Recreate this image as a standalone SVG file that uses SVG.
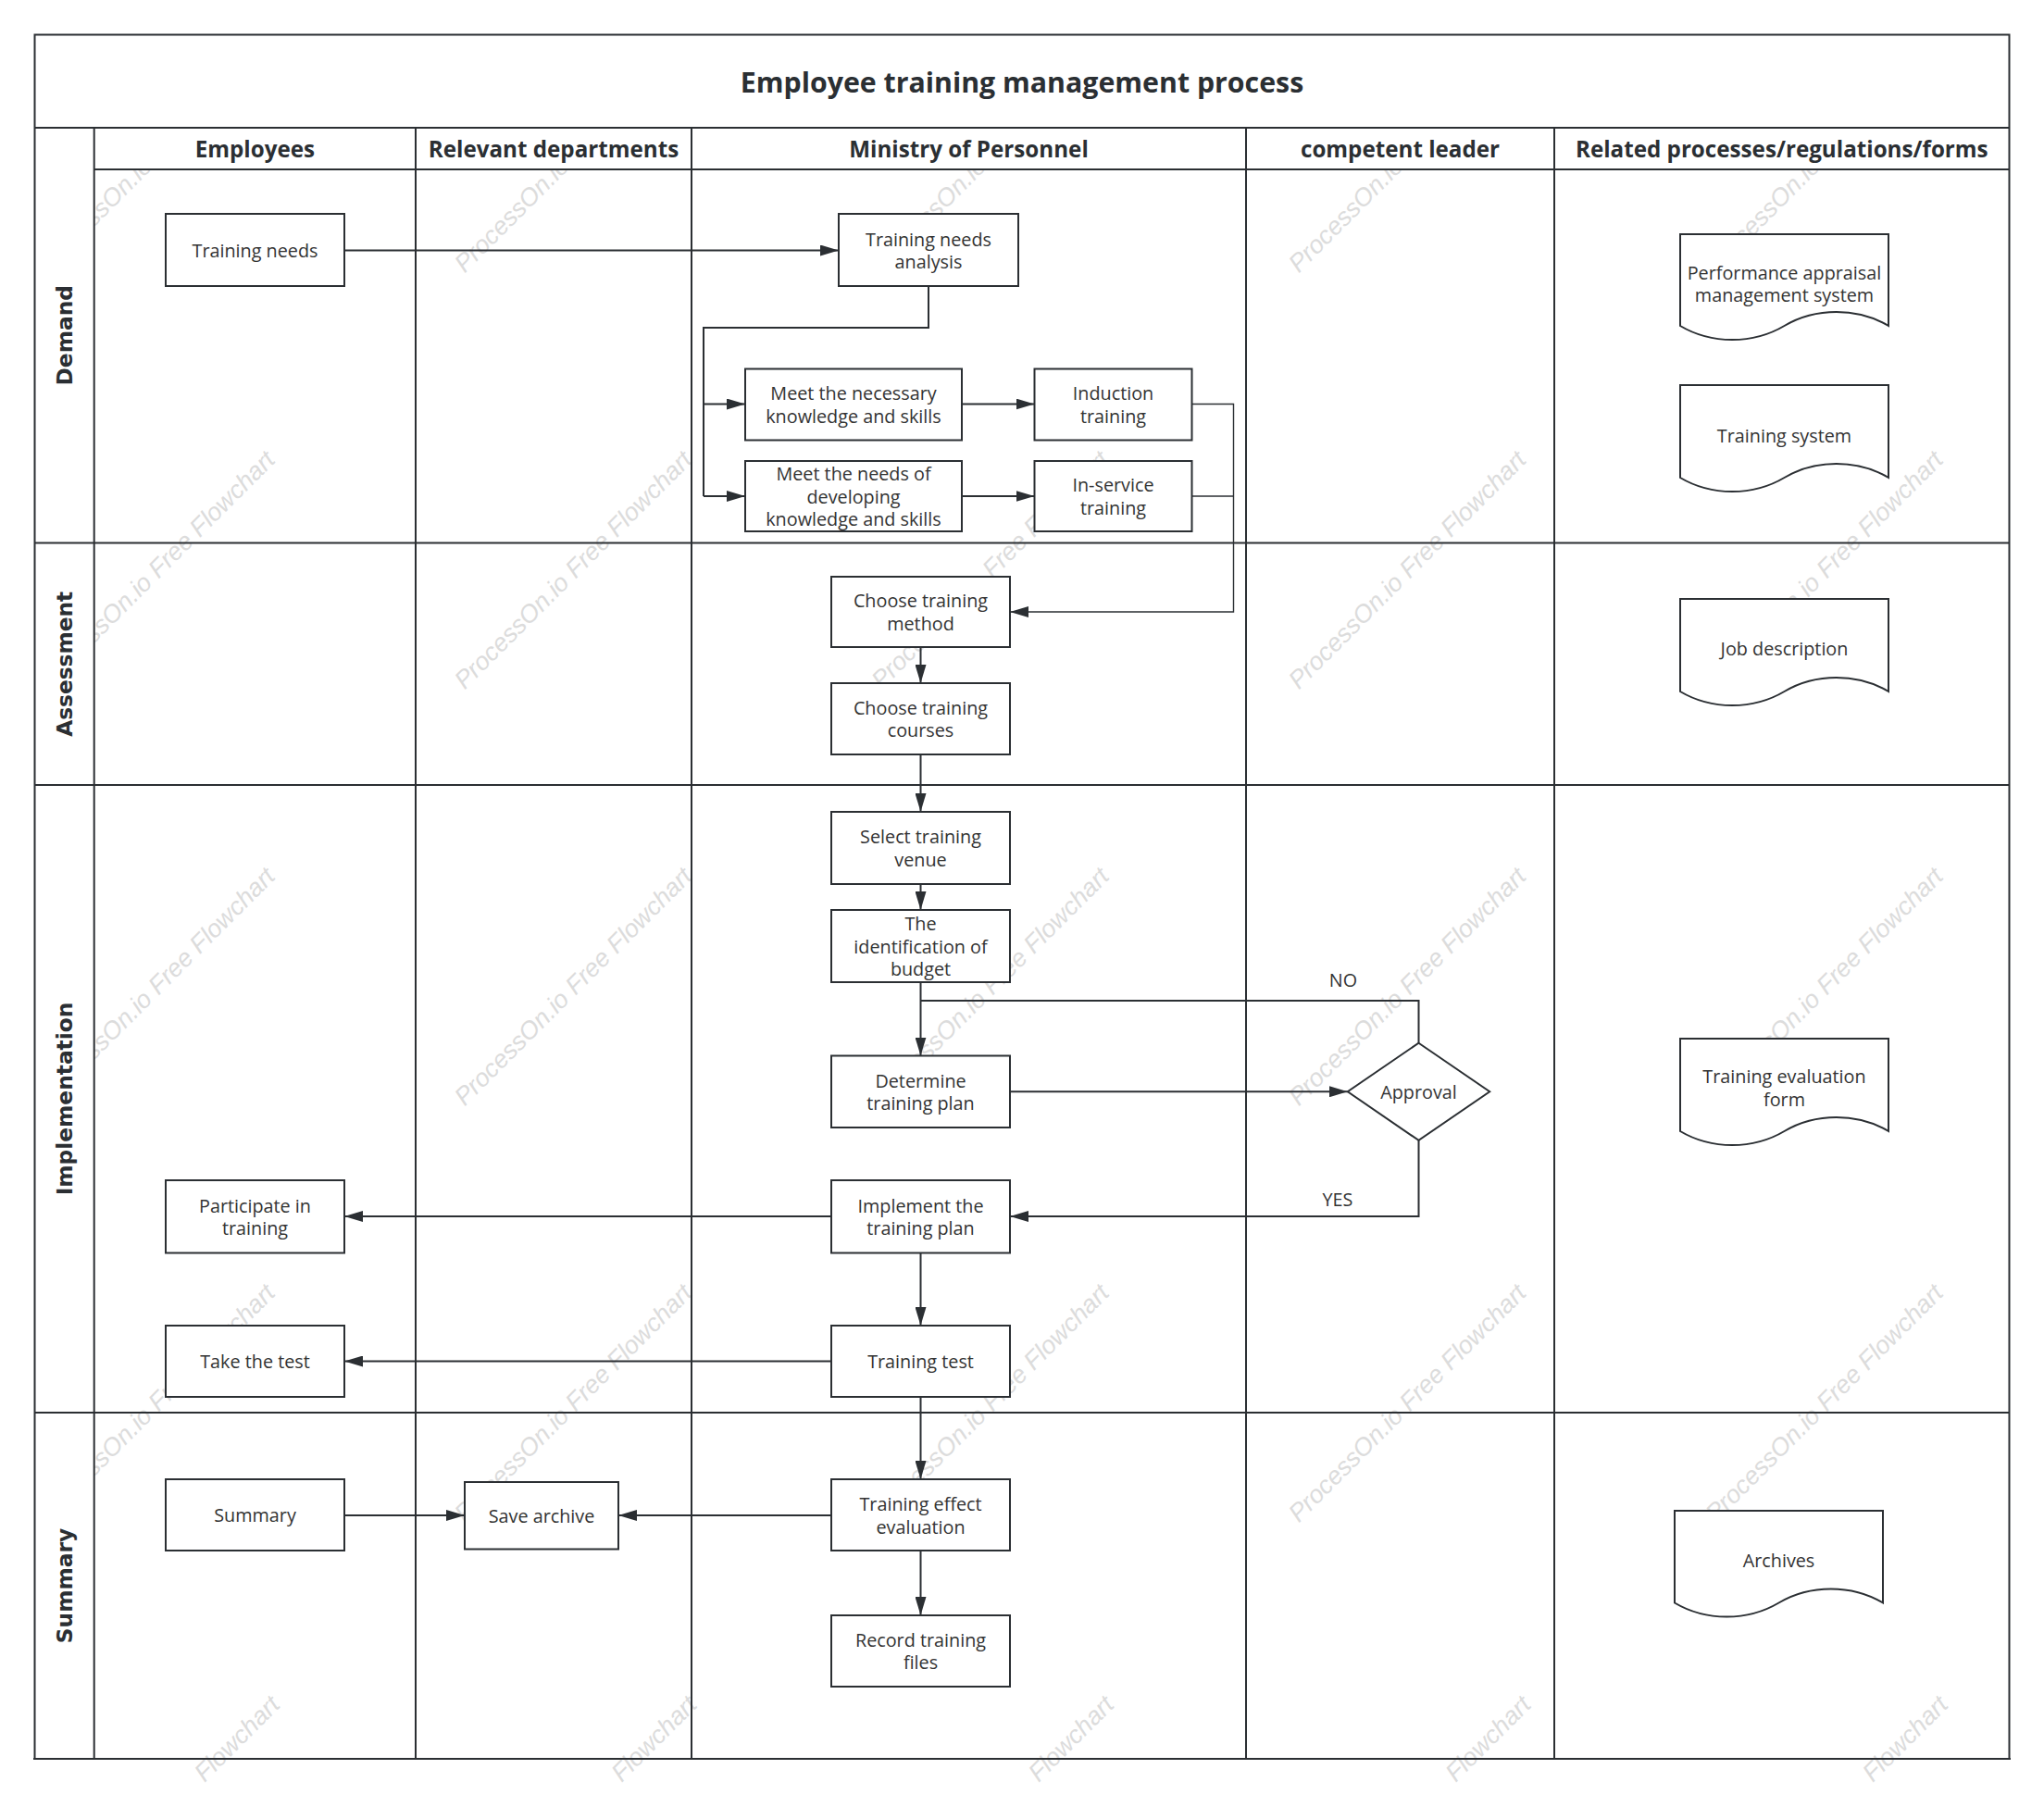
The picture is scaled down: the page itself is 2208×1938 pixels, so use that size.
<svg xmlns="http://www.w3.org/2000/svg" width="2208" height="1938" viewBox="0 0 2208 1938">
<defs>
<marker id="arr" viewBox="0 0 20 12" refX="20" refY="6" markerWidth="20" markerHeight="12" markerUnits="userSpaceOnUse" orient="auto"><path d="M0,0 L20,6 L0,12 Z" fill="#2b2f33"/></marker>
<style>
.wm{font-family:"Liberation Sans",Arial,sans-serif;font-style:italic;font-size:27px;fill:#dcdcdc;text-anchor:middle}
.wme{font-family:"Liberation Sans",Arial,sans-serif;font-style:italic;font-size:27px;fill:#dcdcdc;text-anchor:end}
.ln{stroke:#2b2f33;stroke-width:2;fill:none}
.fillw{fill:#fff;stroke:none}
.title{font-family:"Open Sans","Noto Sans",sans-serif;font-weight:bold;font-size:30.3px;fill:#2b2f33;text-anchor:middle;dominant-baseline:central}
.hd{font-family:"Open Sans","Noto Sans",sans-serif;font-weight:bold;font-size:24.2px;fill:#2b2f33;text-anchor:middle;dominant-baseline:central}
.lane{font-family:"DejaVu Sans",Verdana,sans-serif;font-weight:bold;font-size:23.3px;fill:#2b2f33;text-anchor:middle;dominant-baseline:central}
.box{fill:#fff;stroke:#2b2f33;stroke-width:2}
.t{font-family:"Open Sans","Noto Sans",sans-serif;font-size:19.8px;fill:#333;text-anchor:middle;dominant-baseline:central}
.c{stroke:#2b2f33;stroke-width:2;fill:none}
.cth{stroke:#2b2f33;stroke-width:1.4;fill:none}
.ca{marker-end:url(#arr)}
</style>
</defs>
<rect x="0" y="0" width="2208" height="1938" fill="#fff"/>
<g id="watermarks">
<text class="wm" x="175" y="172" transform="rotate(-45 175 172)">ProcessOn.io Free Flowchart</text>
<text class="wm" x="625.5" y="172" transform="rotate(-45 625.5 172)">ProcessOn.io Free Flowchart</text>
<text class="wm" x="1076" y="172" transform="rotate(-45 1076 172)">ProcessOn.io Free Flowchart</text>
<text class="wm" x="1526.5" y="172" transform="rotate(-45 1526.5 172)">ProcessOn.io Free Flowchart</text>
<text class="wm" x="1977" y="172" transform="rotate(-45 1977 172)">ProcessOn.io Free Flowchart</text>
<text class="wm" x="175" y="622" transform="rotate(-45 175 622)">ProcessOn.io Free Flowchart</text>
<text class="wm" x="625.5" y="622" transform="rotate(-45 625.5 622)">ProcessOn.io Free Flowchart</text>
<text class="wm" x="1076" y="622" transform="rotate(-45 1076 622)">ProcessOn.io Free Flowchart</text>
<text class="wm" x="1526.5" y="622" transform="rotate(-45 1526.5 622)">ProcessOn.io Free Flowchart</text>
<text class="wm" x="1977" y="622" transform="rotate(-45 1977 622)">ProcessOn.io Free Flowchart</text>
<text class="wm" x="175" y="1072" transform="rotate(-45 175 1072)">ProcessOn.io Free Flowchart</text>
<text class="wm" x="625.5" y="1072" transform="rotate(-45 625.5 1072)">ProcessOn.io Free Flowchart</text>
<text class="wm" x="1076" y="1072" transform="rotate(-45 1076 1072)">ProcessOn.io Free Flowchart</text>
<text class="wm" x="1526.5" y="1072" transform="rotate(-45 1526.5 1072)">ProcessOn.io Free Flowchart</text>
<text class="wm" x="1977" y="1072" transform="rotate(-45 1977 1072)">ProcessOn.io Free Flowchart</text>
<text class="wm" x="175" y="1522" transform="rotate(-45 175 1522)">ProcessOn.io Free Flowchart</text>
<text class="wm" x="625.5" y="1522" transform="rotate(-45 625.5 1522)">ProcessOn.io Free Flowchart</text>
<text class="wm" x="1076" y="1522" transform="rotate(-45 1076 1522)">ProcessOn.io Free Flowchart</text>
<text class="wm" x="1526.5" y="1522" transform="rotate(-45 1526.5 1522)">ProcessOn.io Free Flowchart</text>
<text class="wm" x="1977" y="1522" transform="rotate(-45 1977 1522)">ProcessOn.io Free Flowchart</text>
<text class="wme" x="303.7" y="1843.3" transform="rotate(-45 303.7 1843.3)">Flowchart</text>
<text class="wme" x="754.2" y="1843.3" transform="rotate(-45 754.2 1843.3)">Flowchart</text>
<text class="wme" x="1204.7" y="1843.3" transform="rotate(-45 1204.7 1843.3)">Flowchart</text>
<text class="wme" x="1655.2" y="1843.3" transform="rotate(-45 1655.2 1843.3)">Flowchart</text>
<text class="wme" x="2105.7" y="1843.3" transform="rotate(-45 2105.7 1843.3)">Flowchart</text>
</g>
<g id="pool">
<rect class="fillw" x="37.5" y="37.5" width="2133" height="100.5"/>
<rect class="fillw" x="101.7" y="138" width="2068.8" height="45"/>
<rect class="fillw" x="37.5" y="138" width="64.2" height="1762"/>
<rect class="ln" x="37.5" y="37.5" width="2133" height="1862.5" stroke-width="2.5"/>
<line class="ln" x1="36" y1="1900" x2="2172" y2="1900" stroke-width="4"/>
<line class="ln" x1="37.5" y1="138" x2="2170.5" y2="138"/>
<line class="ln" x1="101.7" y1="183" x2="2170.5" y2="183"/>
<line class="ln" x1="37.5" y1="586.6" x2="2170.5" y2="586.6"/>
<line class="ln" x1="37.5" y1="848" x2="2170.5" y2="848"/>
<line class="ln" x1="37.5" y1="1526" x2="2170.5" y2="1526"/>
<line class="ln" x1="101.7" y1="138" x2="101.7" y2="1900"/>
<line class="ln" x1="449" y1="138" x2="449" y2="1900"/>
<line class="ln" x1="747" y1="138" x2="747" y2="1900"/>
<line class="ln" x1="1346" y1="138" x2="1346" y2="1900"/>
<line class="ln" x1="1679" y1="138" x2="1679" y2="1900"/>
<text id="title" class="title" x="1104" y="88">Employee training management process</text>
<g id="lane-headers">
<text class="hd" x="275.4" y="160.5">Employees</text>
<text class="hd" x="598" y="160.5">Relevant departments</text>
<text class="hd" x="1046.5" y="160.5">Ministry of Personnel</text>
<text class="hd" x="1512.5" y="160.5">competent leader</text>
<text class="hd" x="1924.8" y="160.5">Related processes/regulations/forms</text>
</g>
<g id="phase-labels">
<text class="lane" x="69.6" y="362.3" transform="rotate(-90 69.6 362.3)">Demand</text>
<text class="lane" x="69.6" y="717.3" transform="rotate(-90 69.6 717.3)">Assessment</text>
<text class="lane" x="69.6" y="1187" transform="rotate(-90 69.6 1187)">Implementation</text>
<text class="lane" x="69.6" y="1713" transform="rotate(-90 69.6 1713)">Summary</text>
</g>
</g>
<g id="connectors">
<path class="c ca" d="M372,270.5 H906"/>
<path class="c" d="M1003,309 V354 H760 V536"/>
<path class="c ca" d="M760,436.5 H805"/>
<path class="c ca" d="M760,536 H805"/>
<path class="c ca" d="M1039,436.5 H1117.5"/>
<path class="c ca" d="M1039,536 H1117.5"/>
<path class="cth ca" d="M1287.5,436.5 H1332.5 V661 H1091"/>
<path class="cth" d="M1287.5,536 H1332.5"/>
<path class="c ca" d="M994.5,699 V738"/>
<path class="c ca" d="M994.5,815 V877"/>
<path class="c ca" d="M994.5,955 V983"/>
<path class="c ca" d="M994.5,1061 V1140.5"/>
<path class="c" d="M1532.5,1126.7 V1081 H994.5"/>
<text class="t" x="1451" y="1058">NO</text>
<path class="c ca" d="M1091,1179.3 H1455.8"/>
<path class="c ca" d="M1532.5,1231.9 V1314 H1091"/>
<text class="t" x="1445" y="1295">YES</text>
<path class="c ca" d="M898,1314 H372"/>
<path class="c ca" d="M994.5,1353.5 V1432"/>
<path class="c ca" d="M898,1470.5 H372"/>
<path class="c ca" d="M994.5,1509 V1598"/>
<path class="c ca" d="M898,1637 H668"/>
<path class="c ca" d="M372,1637 H502"/>
<path class="c ca" d="M994.5,1675 V1745"/>
</g>
<g id="n-training-needs"><rect class="box" x="179" y="231" width="193" height="78"/><text class="t" x="275.5" y="270">Training needs</text></g>
<g id="n-needs-analysis"><rect class="box" x="906" y="231" width="194" height="78"/><text class="t" x="1003" y="258">Training needs</text><text class="t" x="1003" y="282.5">analysis</text></g>
<g id="n-meet-necessary"><rect class="box" x="805" y="398.5" width="234" height="77"/><text class="t" x="922" y="424.5">Meet the necessary</text><text class="t" x="922" y="449">knowledge and skills</text></g>
<g id="n-meet-developing"><rect class="box" x="805" y="498" width="234" height="76"/><text class="t" x="922" y="511.5">Meet the needs of</text><text class="t" x="922" y="536">developing</text><text class="t" x="922" y="560.5">knowledge and skills</text></g>
<g id="n-induction"><rect class="box" x="1117.5" y="398.5" width="170" height="77"/><text class="t" x="1202.5" y="424.5">Induction</text><text class="t" x="1202.5" y="449">training</text></g>
<g id="n-inservice"><rect class="box" x="1117.5" y="498" width="170" height="76"/><text class="t" x="1202.5" y="523.5">In-service</text><text class="t" x="1202.5" y="548">training</text></g>
<g id="n-choose-method"><rect class="box" x="898" y="623" width="193" height="76"/><text class="t" x="994.5" y="648.5">Choose training</text><text class="t" x="994.5" y="673">method</text></g>
<g id="n-choose-courses"><rect class="box" x="898" y="738" width="193" height="77"/><text class="t" x="994.5" y="764">Choose training</text><text class="t" x="994.5" y="788.5">courses</text></g>
<g id="n-venue"><rect class="box" x="898" y="877" width="193" height="78"/><text class="t" x="994.5" y="903.5">Select training</text><text class="t" x="994.5" y="928">venue</text></g>
<g id="n-budget"><rect class="box" x="898" y="983" width="193" height="78"/><text class="t" x="994.5" y="997.5">The</text><text class="t" x="994.5" y="1022">identification of</text><text class="t" x="994.5" y="1046.5">budget</text></g>
<g id="n-determine-plan"><rect class="box" x="898" y="1140.5" width="193" height="77.5"/><text class="t" x="994.5" y="1167">Determine</text><text class="t" x="994.5" y="1191.5">training plan</text></g>
<g id="n-approval"><polygon class="box" points="1532.5,1126.7 1609.2,1179.3 1532.5,1231.9 1455.8,1179.3"/><text class="t" x="1532.5" y="1179.3">Approval</text></g>
<g id="n-implement"><rect class="box" x="898" y="1275" width="193" height="78.5"/><text class="t" x="994.5" y="1302">Implement the</text><text class="t" x="994.5" y="1326.5">training plan</text></g>
<g id="n-participate"><rect class="box" x="179" y="1275" width="193" height="78.5"/><text class="t" x="275.5" y="1302">Participate in</text><text class="t" x="275.5" y="1326.5">training</text></g>
<g id="n-training-test"><rect class="box" x="898" y="1432" width="193" height="77"/><text class="t" x="994.5" y="1470.5">Training test</text></g>
<g id="n-take-test"><rect class="box" x="179" y="1432" width="193" height="77"/><text class="t" x="275.5" y="1470.5">Take the test</text></g>
<g id="n-summary"><rect class="box" x="179" y="1598" width="193" height="77"/><text class="t" x="275.5" y="1636.5">Summary</text></g>
<g id="n-save-archive"><rect class="box" x="502" y="1601" width="166" height="72.5"/><text class="t" x="585" y="1637">Save archive</text></g>
<g id="n-effect-eval"><rect class="box" x="898" y="1598" width="193" height="77"/><text class="t" x="994.5" y="1624.5">Training effect</text><text class="t" x="994.5" y="1649">evaluation</text></g>
<g id="n-record-files"><rect class="box" x="898" y="1745" width="193" height="77"/><text class="t" x="994.5" y="1771">Record training</text><text class="t" x="994.5" y="1795.5">files</text></g>
<g id="d-performance"><path class="box" d="M1815,253 H2040 V352 C2006.25,332 1961.25,332 1927.5,352 C1893.75,372 1848.75,372 1815,352 Z"/><text class="t" x="1927.5" y="294">Performance appraisal</text><text class="t" x="1927.5" y="318">management system</text></g>
<g id="d-training-system"><path class="box" d="M1815,416 H2040 V516 C2006.25,496 1961.25,496 1927.5,516 C1893.75,536 1848.75,536 1815,516 Z"/><text class="t" x="1927.5" y="470">Training system</text></g>
<g id="d-job-description"><path class="box" d="M1815,647 H2040 V747 C2006.25,727 1961.25,727 1927.5,747 C1893.75,767 1848.75,767 1815,747 Z"/><text class="t" x="1927.5" y="700">Job description</text></g>
<g id="d-evaluation-form"><path class="box" d="M1815,1122 H2040 V1222 C2006.25,1202 1961.25,1202 1927.5,1222 C1893.75,1242 1848.75,1242 1815,1222 Z"/><text class="t" x="1927.5" y="1162.5">Training evaluation</text><text class="t" x="1927.5" y="1187">form</text></g>
<g id="d-archives"><path class="box" d="M1809,1632 H2034 V1731.5 C2000.25,1711.5 1955.25,1711.5 1921.5,1731.5 C1887.75,1751.5 1842.75,1751.5 1809,1731.5 Z"/><text class="t" x="1921.5" y="1685">Archives</text></g>
</svg>
